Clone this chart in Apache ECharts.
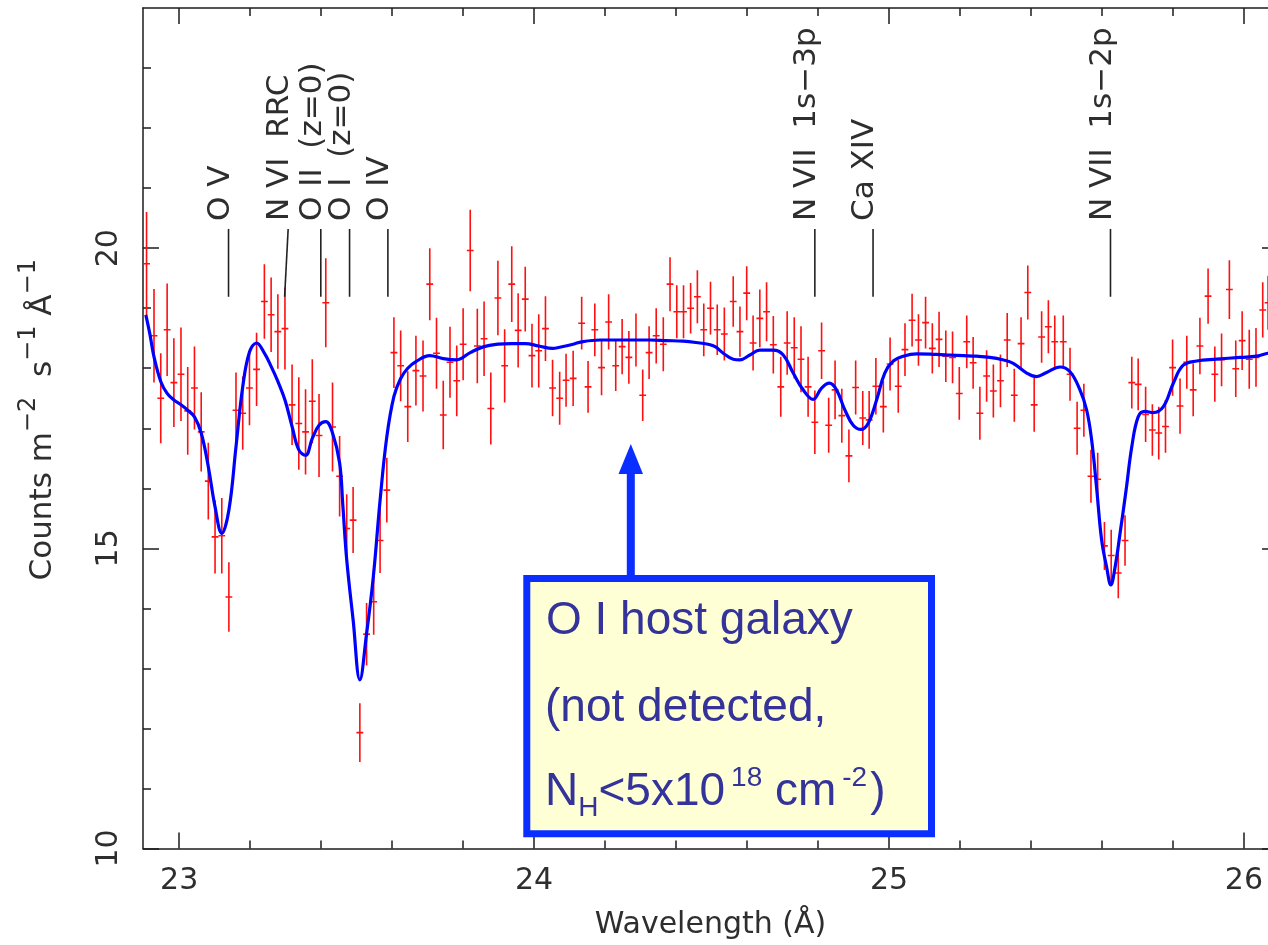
<!DOCTYPE html>
<html>
<head>
<meta charset="utf-8">
<title>Spectrum 23–26 Å</title>
<script src="https://cdn.jsdelivr.net/npm/echarts@6.0.0/dist/echarts.min.js"></script>
<style>
  html, body { margin: 0; padding: 0; background: #ffffff; }
  #chart { width: 1268px; height: 945px; }
</style>
</head>
<body>
<div id="chart"></div>
<script>
// Binned spectrum: wavelength (Å), flux (counts m^-2 s^-1 Å^-1) and 1-sigma error
const WAVE = [
  22.908, 22.929, 22.948, 22.966, 22.985, 23.005, 23.024, 23.043, 23.062, 23.082,
  23.101, 23.120, 23.140, 23.160, 23.179, 23.198, 23.218, 23.240, 23.259, 23.278,
  23.298, 23.318, 23.337, 23.356, 23.375, 23.394, 23.413, 23.432, 23.452, 23.472,
  23.490, 23.509, 23.528, 23.548, 23.566, 23.585, 23.605, 23.624, 23.644, 23.667,
  23.687, 23.706, 23.725, 23.744, 23.763, 23.782, 23.800, 23.820, 23.840, 23.859,
  23.878, 23.898, 23.917, 23.937, 23.955, 23.975, 23.994, 24.013, 24.032, 24.052,
  24.072, 24.090, 24.110, 24.134, 24.152, 24.171, 24.190, 24.210, 24.230, 24.248,
  24.267, 24.287, 24.306, 24.324, 24.344, 24.364, 24.383, 24.402, 24.421, 24.441,
  24.460, 24.478, 24.497, 24.516, 24.536, 24.561, 24.580, 24.599, 24.617, 24.636,
  24.655, 24.674, 24.695, 24.713, 24.733, 24.752, 24.772, 24.791, 24.810, 24.830,
  24.848, 24.867, 24.887, 24.906, 24.926, 24.944, 24.963, 24.984, 25.003, 25.026,
  25.045, 25.065, 25.083, 25.103, 25.122, 25.141, 25.160, 25.179, 25.198, 25.219,
  25.237, 25.256, 25.275, 25.294, 25.314, 25.333, 25.353, 25.372, 25.391, 25.409,
  25.430, 25.449, 25.467, 25.491, 25.510, 25.530, 25.549, 25.569, 25.588, 25.607,
  25.626, 25.646, 25.665, 25.684, 25.702, 25.723, 25.742, 25.760, 25.779, 25.799,
  25.820, 25.839, 25.857, 25.876, 25.899, 25.918, 25.937, 25.959, 25.977, 25.995,
  26.015, 26.034, 26.053, 26.068
];
const FLUX = [
  19.74, 18.54, 17.50, 18.64, 17.76, 17.90, 17.29, 17.67, 16.94, 16.12,
  15.19, 15.21, 14.19, 17.30, 17.25, 17.67, 17.98, 19.11, 18.89, 18.61,
  18.66, 17.39, 17.08, 16.94, 17.45, 16.88, 19.09, 17.02, 16.20, 15.33,
  15.47, 11.93, 13.57, 14.11, 15.13, 15.97, 18.26, 18.04, 17.36, 17.96,
  17.87, 19.40, 18.25, 17.22, 18.10, 17.79, 18.40, 19.96, 18.37, 18.49,
  17.33, 19.17, 18.04, 19.40, 18.63, 19.15, 18.21, 18.29, 18.66, 17.67,
  17.50, 17.80, 17.83, 18.75, 17.69, 18.64, 18.01, 18.77, 18.04, 18.36,
  18.18, 18.47, 17.55, 18.26, 18.54, 18.40, 19.40, 18.94, 18.94, 19.00,
  19.19, 18.64, 19.00, 18.64, 18.57, 19.11, 18.61, 19.25, 18.42, 18.83,
  18.94, 18.39, 17.69, 18.42, 18.34, 18.15, 17.69, 17.10, 18.29, 17.05,
  17.64, 17.21, 16.54, 17.68, 17.17, 17.14, 17.70, 17.36, 18.07, 17.70,
  18.31, 18.80, 18.47, 18.76, 18.33, 18.48, 18.20, 18.18, 17.58, 18.44,
  18.09, 17.25, 17.87, 17.62, 17.79, 18.47, 17.55, 18.41, 19.26, 17.39,
  18.52, 18.69, 18.44, 18.44, 17.90, 17.00, 17.30, 16.20, 16.15, 15.04,
  14.88, 14.59, 15.13, 17.76, 17.73, 17.23, 16.97, 16.92, 17.03, 18.01,
  17.37, 18.10, 17.64, 18.37, 19.20, 17.90, 18.14, 19.31, 17.99, 18.46,
  18.15, 18.18, 18.97, 19.09
];
const ERR = [
  0.86, 0.78, 0.75, 0.77, 0.74, 0.78, 0.73, 0.69, 0.66, 0.64,
  0.61, 0.63, 0.58, 0.63, 0.61, 0.62, 0.61, 0.62, 0.62, 0.62,
  0.68, 0.67, 0.77, 0.71, 0.70, 0.69, 0.74, 0.74, 0.67, 0.57,
  0.55, 0.49, 0.52, 0.55, 0.54, 0.54, 0.59, 0.59, 0.59, 0.58,
  0.59, 0.60, 0.59, 0.57, 0.59, 0.59, 0.60, 0.68, 0.62, 0.62,
  0.60, 0.62, 0.61, 0.63, 0.62, 0.54, 0.53, 0.61, 0.54, 0.47,
  0.44, 0.44, 0.46, 0.44, 0.43, 0.44, 0.46, 0.46, 0.42, 0.46,
  0.44, 0.44, 0.43, 0.44, 0.46, 0.45, 0.45, 0.44, 0.44, 0.42,
  0.44, 0.44, 0.44, 0.42, 0.44, 0.42, 0.42, 0.45, 0.46, 0.48,
  0.49, 0.48, 0.50, 0.53, 0.51, 0.55, 0.50, 0.53, 0.47, 0.46,
  0.49, 0.45, 0.44, 0.45, 0.45, 0.48, 0.47, 0.43, 0.44, 0.44,
  0.44, 0.44, 0.43, 0.43, 0.42, 0.46, 0.43, 0.43, 0.44, 0.44,
  0.43, 0.44, 0.43, 0.44, 0.44, 0.45, 0.44, 0.44, 0.45, 0.45,
  0.43, 0.44, 0.44, 0.44, 0.44, 0.44, 0.44, 0.44, 0.44, 0.40,
  0.43, 0.42, 0.42, 0.43, 0.43, 0.46, 0.43, 0.44, 0.44, 0.47,
  0.46, 0.44, 0.44, 0.47, 0.46, 0.46, 0.44, 0.49, 0.47, 0.49,
  0.49, 0.49, 0.46, 0.45
];

// Best-fit absorption model
const MODEL_WAVE = [
  22.906, 22.917, 22.929, 22.948, 22.966, 22.985, 23.005, 23.024, 23.043, 23.062,
  23.082, 23.101, 23.120, 23.140, 23.160, 23.179, 23.198, 23.218, 23.240, 23.259,
  23.278, 23.298, 23.318, 23.337, 23.356, 23.375, 23.394, 23.413, 23.432, 23.452,
  23.461, 23.472, 23.490, 23.509, 23.528, 23.547, 23.566, 23.585, 23.605, 23.624,
  23.644, 23.667, 23.706, 23.744, 23.782, 23.820, 23.859, 23.898, 23.937, 23.975,
  24.013, 24.052, 24.072, 24.110, 24.134, 24.185, 24.232, 24.279, 24.326, 24.373,
  24.420, 24.467, 24.490, 24.510, 24.533, 24.561, 24.580, 24.608, 24.636, 24.674,
  24.702, 24.730, 24.758, 24.786, 24.810, 24.832, 24.852, 24.876, 24.899, 24.921,
  24.941, 24.965, 24.988, 25.012, 25.040, 25.078, 25.134, 25.172, 25.209, 25.246,
  25.284, 25.320, 25.350, 25.388, 25.415, 25.444, 25.482, 25.510, 25.538, 25.557,
  25.571, 25.585, 25.599, 25.613, 25.625, 25.637, 25.651, 25.668, 25.684, 25.702,
  25.721, 25.744, 25.773, 25.801, 25.829, 25.867, 25.923, 25.989, 26.036, 26.068,
  26.096
];
const MODEL_FLUX = [
  18.89, 18.58, 18.19, 17.78, 17.58, 17.47, 17.39, 17.30, 17.19, 16.92,
  16.36, 15.69, 15.25, 15.64, 16.69, 17.69, 18.27, 18.42, 18.25, 18.03,
  17.78, 17.47, 17.03, 16.64, 16.55, 16.83, 17.05, 17.11, 16.92, 16.42,
  15.72, 14.81, 13.81, 12.81, 13.58, 14.53, 15.80, 16.86, 17.53, 17.83,
  18.00, 18.11, 18.21, 18.16, 18.14, 18.26, 18.36, 18.40, 18.41, 18.41,
  18.37, 18.33, 18.35, 18.40, 18.44, 18.47, 18.47, 18.47, 18.47, 18.46,
  18.45, 18.42, 18.40, 18.36, 18.25, 18.15, 18.14, 18.22, 18.30, 18.30,
  18.22, 17.92, 17.64, 17.48, 17.67, 17.75, 17.64, 17.30, 17.05, 16.98,
  17.08, 17.47, 17.92, 18.12, 18.20, 18.24, 18.23, 18.22, 18.21, 18.20,
  18.18, 18.14, 18.08, 17.92, 17.86, 17.93, 18.02, 17.94, 17.64, 17.30,
  16.80, 16.00, 15.14, 14.69, 14.39, 14.69, 15.25, 15.97, 16.69, 17.19,
  17.28, 17.26, 17.36, 17.75, 18.05, 18.12, 18.15, 18.18, 18.20, 18.25,
  18.28
];

// Line identifications (marker top / foot wavelength)
const LINE_NAMES = ['O V', 'N VI  RRC', 'O II  (z=0)', 'O I  (z=0)', 'O IV', 'N VII  1s\u22123p', 'Ca XIV', 'N VII  1s\u22122p'];
const LINE_WAVE = [23.139, 23.307, 23.399, 23.480, 23.588, 24.791, 24.955, 25.624];
const LINE_WAVE_FOOT = [23.139, 23.297, 23.399, 23.480, 23.588, 24.791, 24.955, 25.624];

// Axis ticks
const X_MAJOR = [23, 24, 25, 26];
const X_MINOR = [23.2, 23.4, 23.6, 23.8, 24.2, 24.4, 24.6, 24.8, 25.2, 25.4, 25.6, 25.8];
const Y_MAJOR = [10, 15, 20];
const Y_MINOR = [11, 12, 13, 14, 16, 17, 18, 19, 21, 22, 23];

const X_MIN = 22.898, X_MAX = 26.096, Y_MIN = 10, Y_MAX = 24;
const MARKER_TOP = 20.32, MARKER_BOTTOM = 19.19;

const AXIS_COLOR = '#1c1c1c';
const TEXT_COLOR = '#2e2e2e';
const FONT = '"DejaVu Sans", "Liberation Sans", sans-serif';
const RED = '#ff1010';
const BLUE = '#0000ff';
const BOX_BLUE = '#0a2eff';
const NOTE_COLOR = '#333399';
const NOTE_FONT = '"Liberation Sans", Arial, sans-serif';

function tickAxis(kind, position, values, length, extra) {
  const base = {
    type: 'value',
    position: position,
    min: kind === 'x' ? X_MIN : Y_MIN,
    max: kind === 'x' ? X_MAX : Y_MAX,
    axisLine: { show: false, onZero: false, lineStyle: { color: AXIS_COLOR, width: 1.5 } },
    axisTick: { show: true, inside: true, length: length, customValues: values,
                lineStyle: { color: AXIS_COLOR, width: 1.5 } },
    axisLabel: { show: false },
    splitLine: { show: false },
    minorTick: { show: false },
    axisPointer: { show: false }
  };
  return Object.assign(base, extra || {});
}

const chart = echarts.init(document.getElementById('chart'), null, { renderer: 'canvas' });

const noteMain = { fontFamily: NOTE_FONT, fontSize: 46, lineHeight: 46, fill: NOTE_COLOR, verticalAlign: 'top' };

const option = {
  animation: false,
  backgroundColor: '#ffffff',
  grid: { left: 143, top: 8, width: 1135, height: 840.5, containLabel: false, outerBoundsMode: 'none' },
  xAxis: [
    tickAxis('x', 'bottom', X_MAJOR, 16, {
      axisLine: { show: true, onZero: false, lineStyle: { color: AXIS_COLOR, width: 1.5 } },
      axisLabel: { show: true, customValues: X_MAJOR, margin: 18, fontFamily: FONT, fontSize: 30,
                   color: TEXT_COLOR, formatter: v => String(v) },
      name: 'Wavelength (Å)', nameLocation: 'middle', nameGap: 62, nameMoveOverlap: false,
      nameTextStyle: { fontFamily: FONT, fontSize: 30, color: TEXT_COLOR }
    }),
    tickAxis('x', 'bottom', X_MINOR, 8),
    tickAxis('x', 'top', X_MAJOR, 16, {
      axisLine: { show: true, onZero: false, lineStyle: { color: AXIS_COLOR, width: 1.5 } }
    }),
    tickAxis('x', 'top', X_MINOR, 8)
  ],
  yAxis: [
    tickAxis('y', 'left', Y_MAJOR, 16, {
      axisLine: { show: true, onZero: false, lineStyle: { color: AXIS_COLOR, width: 1.5 } },
      axisLabel: { show: true, customValues: Y_MAJOR, rotate: 90, margin: 19, fontFamily: FONT,
                   fontSize: 30, color: TEXT_COLOR, formatter: v => String(v) },
      name: '{n|Counts m}{s|\u22122}{n|  s}{s|\u22121}{n| Å}{s|\u22121}',
      nameLocation: 'middle', nameGap: 85, nameRotate: 90, nameMoveOverlap: false,
      nameTextStyle: {
        fontFamily: FONT, fontSize: 31, color: TEXT_COLOR, padding: [0, 0, 0, 17],
        rich: {
          n: { fontFamily: FONT, fontSize: 31, color: TEXT_COLOR, verticalAlign: 'bottom' },
          s: { fontFamily: FONT, fontSize: 24, color: TEXT_COLOR, verticalAlign: 'top', padding: [0, 0, 17, 0] }
        }
      }
    }),
    tickAxis('y', 'left', Y_MINOR, 8),
    tickAxis('y', 'right', Y_MAJOR, 16, {
      axisLine: { show: true, onZero: false, lineStyle: { color: AXIS_COLOR, width: 1.5 } }
    }),
    tickAxis('y', 'right', Y_MINOR, 8)
  ],
  series: [
    {
      // data points with vertical error bars and bin crossbars
      name: 'data',
      type: 'custom',
      xAxisIndex: 0, yAxisIndex: 0,
      clip: true,
      z: 2,
      data: WAVE.map((w, i) => [w, FLUX[i], ERR[i]]),
      encode: { x: 0, y: 1 },
      renderItem: function (params, api) {
        const x = api.value(0), y = api.value(1), e = api.value(2);
        const hi = api.coord([x, y + e]);
        const lo = api.coord([x, y - e]);
        const mid = api.coord([x, y]);
        const half = 3.4;
        const st = { stroke: RED, lineWidth: 1.6 };
        return {
          type: 'group',
          children: [
            { type: 'line', shape: { x1: hi[0], y1: hi[1], x2: lo[0], y2: lo[1] }, style: st },
            { type: 'line', shape: { x1: mid[0] - half, y1: mid[1], x2: mid[0] + half, y2: mid[1] }, style: st }
          ]
        };
      }
    },
    {
      name: 'model',
      type: 'line',
      xAxisIndex: 0, yAxisIndex: 0,
      data: MODEL_WAVE.map((w, i) => [w, MODEL_FLUX[i]]),
      showSymbol: false,
      symbol: 'none',
      smooth: 0.4,
      clip: true,
      z: 3,
      lineStyle: { color: BLUE, width: 3.2 }
    },
    {
      // line identification markers with rotated labels
      name: 'lines',
      type: 'custom',
      xAxisIndex: 0, yAxisIndex: 0,
      clip: false,
      z: 4,
      data: LINE_WAVE.map((w, i) => [w, LINE_WAVE_FOOT[i]]),
      encode: { x: [0, 1] },
      renderItem: function (params, api) {
        const i = params.dataIndex;
        const top = api.coord([api.value(0), MARKER_TOP]);
        const foot = api.coord([api.value(1), MARKER_BOTTOM]);
        return {
          type: 'group',
          children: [
            { type: 'line', shape: { x1: top[0], y1: top[1], x2: foot[0], y2: foot[1] },
              style: { stroke: '#222222', lineWidth: 1.6 } },
            { type: 'text', x: top[0] - 8, y: top[1] - 8, rotation: Math.PI / 2,
              style: { text: LINE_NAMES[i], x: 0, y: 0, fontFamily: FONT, fontSize: 31,
                       fill: TEXT_COLOR, align: 'left', verticalAlign: 'middle' } }
          ]
        };
      }
    }
  ],
  graphic: [
    { type: 'rect', z: 20, shape: { x: 626.8, y: 470, width: 8, height: 106 }, style: { fill: BOX_BLUE } },
    { type: 'polygon', z: 20, shape: { points: [[630.8, 444], [618.5, 474], [643, 474]] }, style: { fill: BOX_BLUE } },
    { type: 'rect', z: 20, shape: { x: 526.8, y: 578.5, width: 404.7, height: 255.3 },
      style: { fill: '#ffffd6', stroke: BOX_BLUE, lineWidth: 7 } },
    { type: 'text', z: 21, x: 546, y: 598.5,
      style: { text: '{n|O I host galaxy}', align: 'left', verticalAlign: 'top', rich: { n: noteMain } } },
    { type: 'text', z: 21, x: 545, y: 685,
      style: { text: '{n|(not detected,}', align: 'left', verticalAlign: 'top', rich: { n: noteMain } } },
    { type: 'text', z: 21, x: 545, y: 764,
      style: { text: '{n|N}{sub|H}{n|<5x10}{sup|18}{n| cm}{sup|-2}{p|)}', align: 'left', verticalAlign: 'top',
               rich: {
                 n: Object.assign({}, noteMain, { padding: [5, 0, 0, 0] }),
                 p: Object.assign({}, noteMain, { padding: [5, 0, 0, 3] }),
                 sub: { fontFamily: NOTE_FONT, fontSize: 28, lineHeight: 28, fill: NOTE_COLOR, verticalAlign: 'top', padding: [30, 0, 0, 0] },
                 sup: { fontFamily: NOTE_FONT, fontSize: 28, lineHeight: 28, fill: NOTE_COLOR, verticalAlign: 'top', padding: [0, 0, 0, 6] }
               } } }
  ]
};

chart.setOption(option);
</script>
</body>
</html>
